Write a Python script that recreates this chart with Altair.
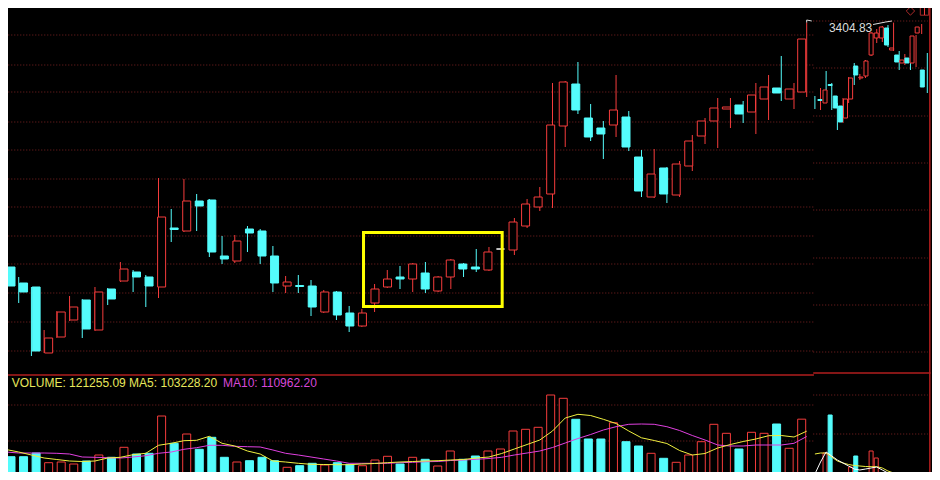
import altair as alt
import pandas as pd
import numpy as np

m_open = [2916, 2884, 2876, 2744, 2776, 2810, 2850, 2790, 2872, 2888,
          2906, 2896, 2876, 2994, 2988, 3048, 3050, 2938, 2928, 2992,
          2988, 2938, 2878, 2879, 2878, 2826, 2866, 2824, 2798, 2844,
          2876, 2896, 2892, 2904, 2868, 2896, 2922, 2916, 2910, 2952,
          2950, 2998, 3036, 3062, 3198, 3282, 3214, 3194, 3200, 3216,
          3136, 3056, 3114, 3060, 3118, 3178, 3208, 3232, 3240, 3226,
          3252, 3274, 3252, 3266]
m_close = [2878, 2866, 2748, 2774, 2826, 2836, 2792, 2866, 2852, 2912,
           2896, 2878, 3016, 2991, 3048, 3038, 2946, 2932, 2968, 2984,
           2938, 2884, 2886, 2877, 2836, 2866, 2820, 2798, 2824, 2872,
           2892, 2892, 2922, 2872, 2896, 2930, 2912, 2912, 2946, 2952,
           3006, 3042, 3056, 3200, 3286, 3230, 3176, 3182, 3230, 3156,
           3068, 3102, 3062, 3122, 3168, 3208, 3234, 3236, 3222, 3260,
           3276, 3264, 3272, 3372]
m_high = [2924, 2896, 2876, 2790, 2828, 2858, 2852, 2876, 2874, 2926,
          2910, 2900, 3094, 3032, 3092, 3062, 3052, 2978, 2980, 2998,
          2992, 2958, 2898, 2900, 2890, 2870, 2868, 2838, 2832, 2882,
          2910, 2918, 2924, 2926, 2898, 2932, 2924, 2952, 2956, 2956,
          3014, 3052, 3076, 3284, 3288, 3326, 3242, 3208, 3300, 3228,
          3150, 3152, 3116, 3128, 3180, 3214, 3254, 3254, 3248, 3284,
          3300, 3338, 3284, 3404.83]
m_low = [2872, 2844, 2738, 2744, 2774, 2808, 2774, 2788, 2840, 2886,
         2866, 2836, 2854, 2966, 2986, 2988, 2936, 2922, 2924, 2946,
         2922, 2866, 2864, 2864, 2818, 2824, 2810, 2786, 2796, 2826,
         2874, 2872, 2866, 2864, 2866, 2872, 2896, 2906, 2908, 2948,
         2940, 2994, 3028, 3034, 3156, 3222, 3168, 3132, 3176, 3148,
         3056, 3054, 3044, 3056, 3108, 3162, 3154, 3194, 3204, 3182,
         3210, 3248, 3232, 3256]
m_vol = [64950, 64950, 70500, 55950, 57000, 54000, 58500, 67500, 64050, 79050,
         69000, 70050, 126000, 85050, 99000, 76050, 94050, 64050, 57000, 58950,
         64050, 58950, 49050, 51450, 55050, 52500, 55950, 53550, 51450, 60000,
         65550, 54000, 64050, 61050, 51000, 73500, 61050, 66000, 73500, 76500,
         103500, 106050, 109050, 157500, 152550, 121050, 91500, 91500, 115950, 87450,
         81000, 70050, 62550, 56550, 67500, 87450, 113550, 100050, 76500, 101550,
         100050, 114000, 77550, 121255.09]
m_ma5 = [75750, 72000, 67500, 63000, 60750, 58500, 57750, 58500, 63000, 64050,
         67950, 70050, 82050, 85050, 88950, 89550, 95550, 85050, 81000, 73500,
         69000, 58500, 57000, 55050, 53550, 53250, 52950, 52950, 54000, 54750,
         55950, 57000, 57750, 58500, 58950, 60000, 60750, 63000, 64500, 69750,
         76500, 83250, 90000, 103500, 123000, 128550, 126750, 121050, 114750, 103500,
         93300, 89250, 84750, 74250, 67500, 69750, 78000, 83250, 87750, 91500,
         96450, 96750, 94500, 103228.20]
m_ma10 = [72000, 70500, 70500, 70500, 70050, 69000, 64500, 64050, 63450, 63000,
          64500, 66450, 70050, 72000, 76050, 78450, 82050, 82050, 80550, 79950,
          79500, 75000, 70050, 67500, 64500, 61500, 58500, 55050, 55050, 55050,
          55050, 55950, 56550, 57450, 57750, 59250, 60000, 61050, 62250, 64050,
          67500, 70500, 73500, 78750, 85500, 92250, 98250, 105000, 109950, 113550,
          114000, 113550, 109950, 104250, 96750, 90000, 82500, 81000, 81000, 82500,
          82500, 82500, 85050, 95250]

i_open = [3251, 3244, 3281, 3258, 3238, 3214, 3252, 3318, 3294, 3298, 3340,
          3374, 3374, 3394, 3350, 3340, 3324, 3334, 3324, 3384, 3310]
i_close = [3249, 3270, 3279, 3234, 3206, 3252, 3294, 3300, 3296, 3328, 3384,
           3384, 3396, 3360, 3354, 3326, 3330, 3324, 3378, 3396, 3276]
i_high = [3258, 3274, 3308, 3284, 3244, 3254, 3296, 3324, 3302, 3330, 3386,
          3392, 3398, 3400, 3404.83, 3348, 3342, 3344, 3380, 3402, 3344]
i_low = [3232, 3230, 3260, 3230, 3190, 3204, 3244, 3280, 3290, 3294, 3338,
         3364, 3366, 3356, 3348, 3310, 3320, 3310, 3316, 3382, 3264]
i_vol = [39000, 70500, 127500, 40500, 27000, 25500, 49500, 66000, 24000, 22500, 73500,
         63000, 21000, 19500, 22000, 18000, 19000, 21000, 24000, 20000, 22000]
i_ma_white = [39000, 57000, 72000, 66000, 60000, 55500, 51000, 46500, 45000, 46500, 48000,
              49500, 45000, 40500, 39000, 36000, 30000, 24000, 21000, 19500, 18000]
i_ma_yellow = [69000, 70500, 70500, 64500, 58500, 55500, 53250, 51750, 51000, 50250, 49950,
               49950, 48000, 43500, 40500, 38250, 35250, 30000, 25500, 22500, 21000]

price_grid = [2748, 2806, 2864, 2922, 2978, 3036, 3092, 3150, 3206, 3266, 3320, 3380]
inset_grid = [2746, 2840, 2934, 3030, 3124, 3218, 3314, 3408]
vol_grid = [88500, 142500]
inset_vol_grid = [99000, 157500]

box_x = [28.13, 39.04]
box_p = [2837, 2985]

label_vol = "VOLUME: 121255.09  MA5: 103228.20"
label_ma10 = "MA10: 110962.20"
label_high = "3404.83"

RED = "#f53c3c"
CYAN = "#54fcfc"
GRID = "#7c2222"
SEP = "#b01e1e"

X_MAIN = alt.Scale(domain=[0, 63], range=[-2, 798.7], nice=False, zero=False)
X_INS = alt.Scale(domain=[0, 20], range=[806.9, 919.3], nice=False, zero=False)
Y_P = alt.Scale(domain=[2490, 3434], range=[472, 0], nice=False, zero=False)
Y_V = alt.Scale(domain=[0, 738000], range=[492, 0], nice=False, zero=False)

DIR = ["up", "down", "flat"]
STROKE = alt.Scale(domain=DIR, range=[RED, CYAN, "#ffffff"])
FILL = alt.Scale(domain=DIR, range=["#000000", CYAN, "#ffffff"])


def direction(o, c):
    o = np.array(o, dtype=float)
    c = np.array(c, dtype=float)
    return np.where(c > o, "up", np.where(c < o, "down", "flat"))


main = pd.DataFrame({"i": np.arange(len(m_open)), "o": m_open, "c": m_close,
                     "h": m_high, "l": m_low, "v": m_vol, "ma5": m_ma5, "ma10": m_ma10})
main["dir"] = direction(m_open, m_close)
main["vdir"] = np.where(main["c"] >= main["o"], "up", "down")

ins = pd.DataFrame({"i": np.arange(len(i_open)), "o": i_open, "c": i_close,
                    "h": i_high, "l": i_low, "v": i_vol,
                    "mw": i_ma_white, "my": i_ma_yellow})
ins["dir"] = direction(i_open, i_close)
ins["vdir"] = np.where(ins["c"] >= ins["o"], "up", "down")


def xm(f="i"):
    return alt.X(f"{f}:Q", scale=X_MAIN, axis=None)


def xi(f="i"):
    return alt.X(f"{f}:Q", scale=X_INS, axis=None)


def yp(f):
    return alt.Y(f"{f}:Q", scale=Y_P, axis=None)


def yv(f):
    return alt.Y(f"{f}:Q", scale=Y_V, axis=None)


layers = []

g1 = pd.DataFrame({"p": price_grid, "a": -1.0, "b": 63.57})
layers.append(alt.Chart(g1).mark_rule(color=GRID, strokeDash=[1, 2], strokeWidth=1).encode(
    x=xm("a"), x2="b:Q", y=yp("p")))
g2 = pd.DataFrame({"p": inset_grid, "a": -0.3, "b": 20.1})
layers.append(alt.Chart(g2).mark_rule(color=GRID, strokeDash=[1, 2], strokeWidth=1).encode(
    x=xi("a"), x2="b:Q", y=yp("p")))
g3 = pd.DataFrame({"v": vol_grid, "a": -1.0, "b": 63.57})
layers.append(alt.Chart(g3).mark_rule(color=GRID, strokeDash=[1, 2], strokeWidth=1).encode(
    x=xm("a"), x2="b:Q", y=yv("v")))
g4 = pd.DataFrame({"v": inset_vol_grid, "a": -0.3, "b": 20.1})
layers.append(alt.Chart(g4).mark_rule(color=GRID, strokeDash=[1, 2], strokeWidth=1).encode(
    x=xi("a"), x2="b:Q", y=yv("v")))

s1 = pd.DataFrame({"p": [2700], "a": [-1.0], "b": [63.57]})
layers.append(alt.Chart(s1).mark_rule(color=SEP, strokeWidth=1.5).encode(
    x=xm("a"), x2="b:Q", y=yp("p")))
s2 = pd.DataFrame({"p": [2704], "a": [-0.3], "b": [20.6]})
layers.append(alt.Chart(s2).mark_rule(color=SEP, strokeWidth=1.5).encode(
    x=xi("a"), x2="b:Q", y=yp("p")))
s3 = pd.DataFrame({"x": [20.45], "p1": [2480], "p2": [3440]})
layers.append(alt.Chart(s3).mark_rule(color=SEP, strokeWidth=1.5).encode(
    x=xi("x"), y=yp("p1"), y2="p2:Q"))

layers.append(alt.Chart(main).mark_bar(size=8, strokeWidth=1, clip=True).encode(
    x=xm(), y=yv("v"), y2=alt.datum(0),
    fill=alt.Fill("vdir:N", scale=FILL, legend=None),
    stroke=alt.Stroke("vdir:N", scale=STROKE, legend=None)))
layers.append(alt.Chart(main).mark_line(color="#e040e0", strokeWidth=1, clip=True).encode(
    x=xm(), y=yv("ma10")))
layers.append(alt.Chart(main).mark_line(color="#f0f040", strokeWidth=1, clip=True).encode(
    x=xm(), y=yv("ma5")))

layers.append(alt.Chart(ins).mark_bar(size=4, strokeWidth=1, clip=True).encode(
    x=xi(), y=yv("v"), y2=alt.datum(0),
    fill=alt.Fill("vdir:N", scale=FILL, legend=None),
    stroke=alt.Stroke("vdir:N", scale=STROKE, legend=None)))
layers.append(alt.Chart(ins).mark_line(color="#f0f040", strokeWidth=1, clip=True).encode(
    x=xi(), y=yv("my")))
layers.append(alt.Chart(ins).mark_line(color="#ffffff", strokeWidth=1, clip=True).encode(
    x=xi(), y=yv("mw")))

layers.append(alt.Chart(main).mark_rule(strokeWidth=1).encode(
    x=xm(), y=yp("l"), y2="h:Q",
    color=alt.Color("dir:N", scale=STROKE, legend=None)))
layers.append(alt.Chart(main).mark_bar(size=8, strokeWidth=1).encode(
    x=xm(), y=yp("o"), y2="c:Q",
    fill=alt.Fill("dir:N", scale=FILL, legend=None),
    stroke=alt.Stroke("dir:N", scale=STROKE, legend=None)))

layers.append(alt.Chart(ins).mark_rule(strokeWidth=1).encode(
    x=xi(), y=yp("l"), y2="h:Q",
    color=alt.Color("dir:N", scale=STROKE, legend=None)))
layers.append(alt.Chart(ins).mark_bar(size=4, strokeWidth=1).encode(
    x=xi(), y=yp("o"), y2="c:Q",
    fill=alt.Fill("dir:N", scale=FILL, legend=None),
    stroke=alt.Stroke("dir:N", scale=STROKE, legend=None)))

bx = pd.DataFrame({"x1": [box_x[0]], "x2": [box_x[1]], "p1": [box_p[0]], "p2": [box_p[1]]})
layers.append(alt.Chart(bx).mark_rect(fillOpacity=0, stroke="#ffff00", strokeWidth=3).encode(
    x=xm("x1"), x2="x2:Q", y=yp("p1"), y2="p2:Q"))

hk = pd.DataFrame({"x": [63, 63, 63.4], "p": [3404.83, 3410, 3408], "k": [0, 1, 2]})
layers.append(alt.Chart(hk).mark_line(color="#e0e0e0", strokeWidth=1).encode(
    x=xm("x"), y=yp("p"), order="k:Q"))
hl = pd.DataFrame({"x": [10.35, 12.6, 13.7], "p": [3401, 3406, 3408], "k": [0, 1, 2]})
layers.append(alt.Chart(hl).mark_line(color="#e0e0e0", strokeWidth=1).encode(
    x=xi("x"), y=yp("p"), order="k:Q"))
ht = pd.DataFrame({"x": [6.35], "p": [3395], "t": [label_high]})
layers.append(alt.Chart(ht).mark_text(font="Liberation Sans", fontSize=12, color="#dcdcdc",
                                      align="center", baseline="middle").encode(
    x=xi("x"), y=yp("p"), text="t:N"))

lt = pd.DataFrame({"x": [0.45, 17.07], "v": [175500, 175500], "t": [label_vol, label_ma10],
                   "s": ["vol", "ma10"]})
layers.append(alt.Chart(lt).mark_text(font="Liberation Sans", fontSize=12,
                                      align="left", baseline="middle").encode(
    x=xm("x"), y=yv("v"), text="t:N",
    color=alt.Color("s:N", scale=alt.Scale(domain=["vol", "ma10"], range=["#e8e85c", "#d848d8"]),
                    legend=None)))

ic = pd.DataFrame({"x": [17.0, 19.5], "p": [3428, 3428], "s": ["diamond", "square"]})
layers.append(alt.Chart(ic).mark_point(filled=False, color=RED, strokeWidth=1, size=70).encode(
    x=xi("x"), y=yp("p"),
    shape=alt.Shape("s:N", scale=alt.Scale(domain=["diamond", "square"], range=["diamond", "square"]),
                    legend=None)))
icl = pd.DataFrame({"x": [19.5], "p1": [3420], "p2": [3436]})
layers.append(alt.Chart(icl).mark_rule(color=RED, strokeWidth=1).encode(
    x=xi("x"), y=yp("p1"), y2="p2:Q"))

chart = alt.layer(*layers).resolve_scale(
    x="independent", y="independent", color="independent", fill="independent",
    stroke="independent", shape="independent"
).properties(
    width=924, height=464, background="#000000", padding=0,
    autosize=alt.AutoSizeParams(type="none")
).configure_view(stroke=None)

chart.save("out.html", embed_options={"renderer": "svg", "actions": False})
